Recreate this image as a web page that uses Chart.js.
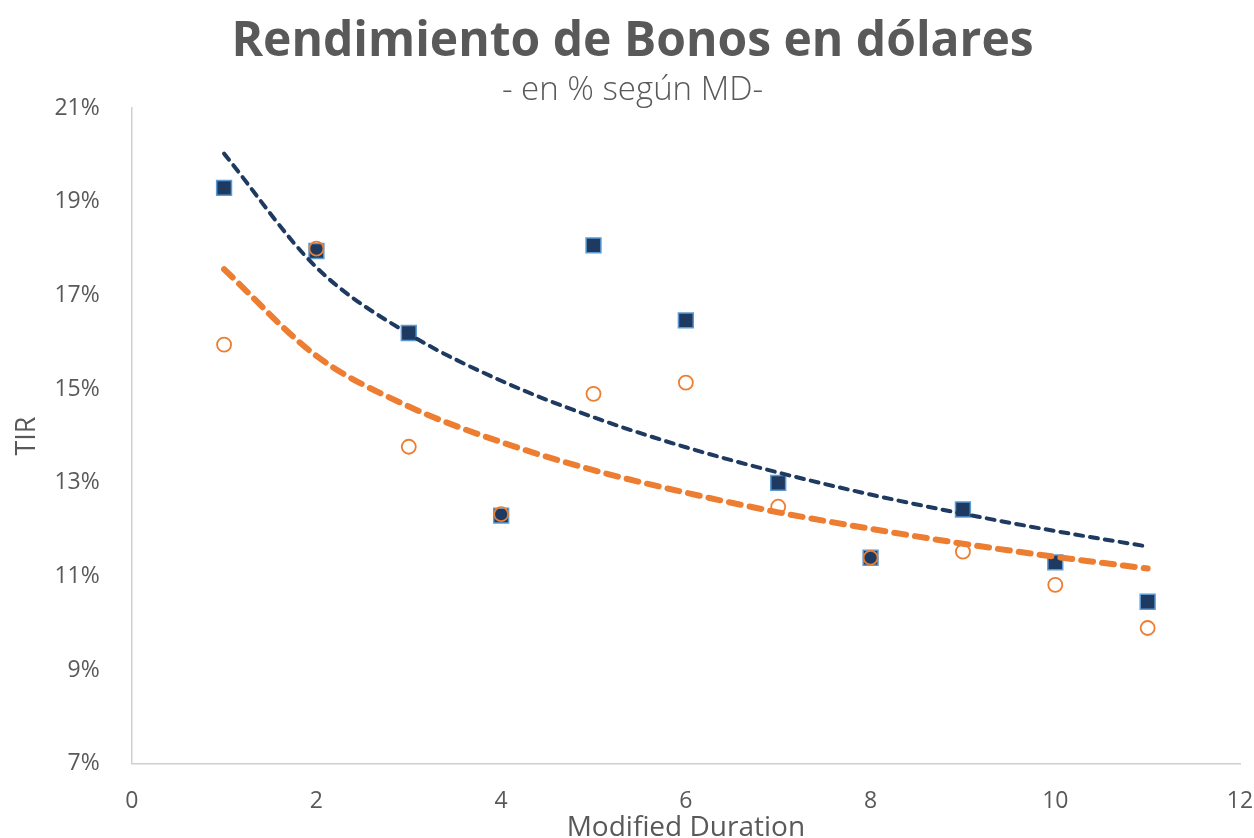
<!DOCTYPE html>
<html>
<head>
<meta charset="utf-8">
<script src="https://cdn.jsdelivr.net/npm/chart.js@4/dist/chart.umd.min.js"></script>
<style>
  html, body { margin: 0; padding: 0; background: #fff; }
  #wrap { width: 1254px; height: 838px; }
</style>
</head>
<body>
<div id="wrap"><canvas id="chart" width="1254" height="838"></canvas></div>
<script>
// Datos
const duration = [1, 2, 3, 4, 5, 6, 7, 8, 9, 10, 11];
const tirAzul = [19.3, 17.95, 16.2, 12.3, 18.07, 16.47, 13.0, 11.4, 12.43, 11.3, 10.46];
const tirNaranja = [15.95, 18.0, 13.77, 12.33, 14.9, 15.14, 12.49, 11.4, 11.53, 10.82, 9.9];
// Lineas de tendencia (logaritmicas)
const tendAzul = [20.03, 17.6, 16.18, 15.18, 14.4, 13.76, 13.22, 12.75, 12.34, 11.97, 11.64];
const tendNaranja = [17.56, 15.71, 14.63, 13.87, 13.27, 12.79, 12.37, 12.02, 11.7, 11.42, 11.17];
const xTicks = [0, 2, 4, 6, 8, 10, 12];
const yTicks = [7, 9, 11, 13, 15, 17, 19, 21];

const pts = (ys) => duration.map((x, i) => ({ x: x, y: ys[i] }));

const gris = '#595959';
const azul = '#1f3a60';
const naranja = '#ed7d31';
const fuente = '"Open Sans", Lato, sans-serif';

new Chart(document.getElementById('chart').getContext('2d'), {
    type: 'scatter',
    data: {
        datasets: [
            {
                label: 'Tendencia azul',
                data: pts(tendAzul),
                showLine: true,
                borderColor: azul,
                borderWidth: 4,
                borderDash: [8, 7],
                borderCapStyle: 'round',
                cubicInterpolationMode: 'monotone',
                pointRadius: 0,
                order: 1
            },
            {
                label: 'Tendencia naranja',
                data: pts(tendNaranja),
                showLine: true,
                borderColor: naranja,
                borderWidth: 6,
                borderDash: [12, 9],
                borderCapStyle: 'round',
                cubicInterpolationMode: 'monotone',
                pointRadius: 0,
                order: 2
            },
            {
                label: 'Orange',
                data: pts(tirNaranja),
                pointStyle: 'circle',
                pointRadius: 7,
                backgroundColor: 'rgba(0,0,0,0)',
                borderColor: naranja,
                borderWidth: 1.8,
                order: 3
            },
            {
                label: 'Azul',
                data: pts(tirAzul),
                pointStyle: 'rect',
                pointRadius: 10.5,
                backgroundColor: azul,
                borderColor: '#5b9bd5',
                borderWidth: 1.5,
                order: 4
            }
        ]
    },
    options: {
        responsive: false,
        animation: false,
        layout: { padding: { left: 11, right: 0, top: 0, bottom: -7 } },
        plugins: {
            legend: { display: false },
            tooltip: { enabled: false },
            title: {
                display: true,
                text: 'Rendimiento de Bonos en dólares',
                color: gris,
                font: { family: fuente, size: 48, weight: 'bold' },
                padding: { top: 14, bottom: -1 }
            },
            subtitle: {
                display: true,
                text: '- en % según MD-',
                color: gris,
                font: { family: fuente, size: 33, weight: '300' },
                padding: { top: 0, bottom: -2 }
            }
        },
        scales: {
            x: {
                type: 'linear',
                min: 0,
                max: 12,
                afterBuildTicks: (axis) => { axis.ticks = xTicks.map(v => ({ value: v })); },
                afterFit: (axis) => { axis.paddingRight = 14; },
                grid: { display: false },
                border: { display: true, color: '#d0d0d0', width: 1.5 },
                ticks: { color: gris, font: { family: fuente, size: 23 }, padding: 16 },
                title: {
                    display: true,
                    text: 'Modified Duration',
                    color: gris,
                    font: { family: fuente, size: 28 },
                    padding: { top: -20, bottom: 0 }
                }
            },
            y: {
                type: 'linear',
                min: 7,
                max: 21,
                afterBuildTicks: (axis) => { axis.ticks = yTicks.map(v => ({ value: v })); },
                grid: { display: false },
                border: { display: true, color: '#d0d0d0', width: 1.5 },
                ticks: {
                    color: gris,
                    font: { family: fuente, size: 23 },
                    padding: 24,
                    callback: (v) => v + '%'
                },
                title: {
                    display: true,
                    text: 'TIR',
                    color: gris,
                    font: { family: fuente, size: 27 },
                    padding: { top: 0, bottom: -13 }
                }
            }
        }
    }
});
</script>
</body>
</html>
